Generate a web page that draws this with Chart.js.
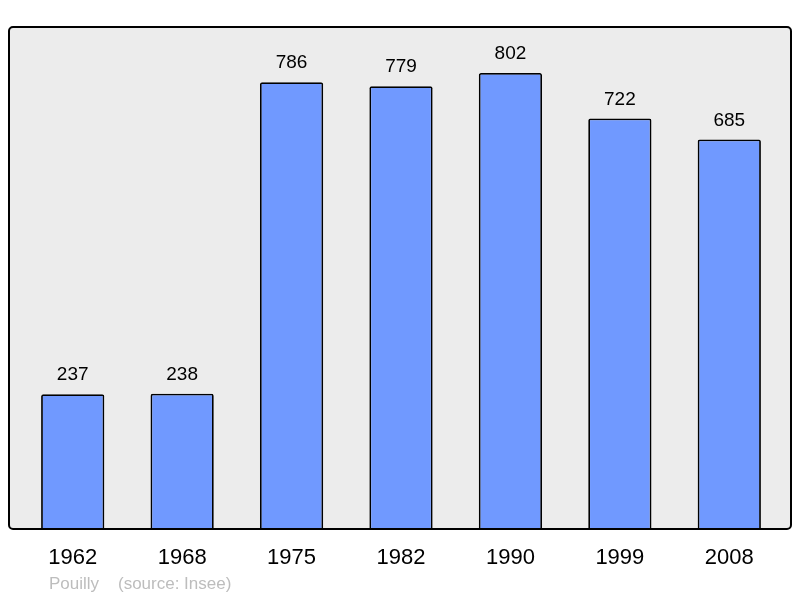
<!DOCTYPE html>
<html>
<head>
<meta charset="utf-8">
<script src="https://cdn.jsdelivr.net/npm/chart.js@4/dist/chart.umd.min.js"></script>
<style>
  html, body { margin: 0; padding: 0; background: #fff; }
  #wrap { width: 800px; height: 598px; }
</style>
</head>
<body>
<div id="wrap"><canvas id="myChart" width="800" height="598"></canvas></div>
<script>
const years = ["1962", "1968", "1975", "1982", "1990", "1999", "2008"];
const population = [237, 238, 786, 779, 802, 722, 685];
const footerText = "Pouilly    (source: Insee)";

const framePlugin = {
    id: 'frame',
    beforeDatasetsDraw(chart) {
        const a = chart.chartArea;
        const c = chart.ctx;
        c.save();
        c.beginPath();
        c.roundRect(a.left - 9, a.top, a.right - a.left + 16, a.bottom - a.top, 4);
        c.fillStyle = '#ececec';
        c.fill();
        c.restore();
    },
    afterDatasetsDraw(chart) {
        const a = chart.chartArea;
        const c = chart.ctx;
        const x = chart.scales.x;
        const meta = chart.getDatasetMeta(0);
        c.save();
        c.beginPath();
        c.roundRect(a.left - 9, a.top, a.right - a.left + 16, a.bottom - a.top, 4);
        c.lineWidth = 2;
        c.strokeStyle = '#000';
        c.stroke();

        c.fillStyle = '#000';
        c.textAlign = 'center';
        c.textBaseline = 'alphabetic';
        c.font = '19px "Liberation Sans", Arial, sans-serif';
        meta.data.forEach((bar, i) => {
            c.fillText(String(population[i]), bar.x, bar.y - 14);
        });

        c.font = '22px "Liberation Sans", Arial, sans-serif';
        years.forEach((y, i) => {
            c.fillText(y, x.getPixelForValue(i), a.bottom + 35);
        });

        c.textAlign = 'left';
        c.fillStyle = '#bdbdbd';
        c.font = '17px "Liberation Sans", Arial, sans-serif';
        c.fillText(footerText, 49, a.bottom + 60);
        c.restore();
    }
};

new Chart(document.getElementById("myChart"), {
    type: 'bar',
    data: {
        labels: years,
        datasets: [{
            label: 'population',
            data: population,
            backgroundColor: '#7099ff',
            borderColor: '#000',
            borderWidth: 1.8,
            borderRadius: 2,
            borderSkipped: 'start',
            barPercentage: 0.578,
            categoryPercentage: 1
        }]
    },
    options: {
        responsive: false,
        animation: false,
        layout: { padding: { left: 18, right: 16, top: 27, bottom: 69 } },
        plugins: { legend: { display: false }, tooltip: { enabled: false } },
        scales: {
            x: { display: false },
            y: { display: false, min: 0, max: 883 }
        }
    },
    plugins: [framePlugin]
});
</script>
</body>
</html>
